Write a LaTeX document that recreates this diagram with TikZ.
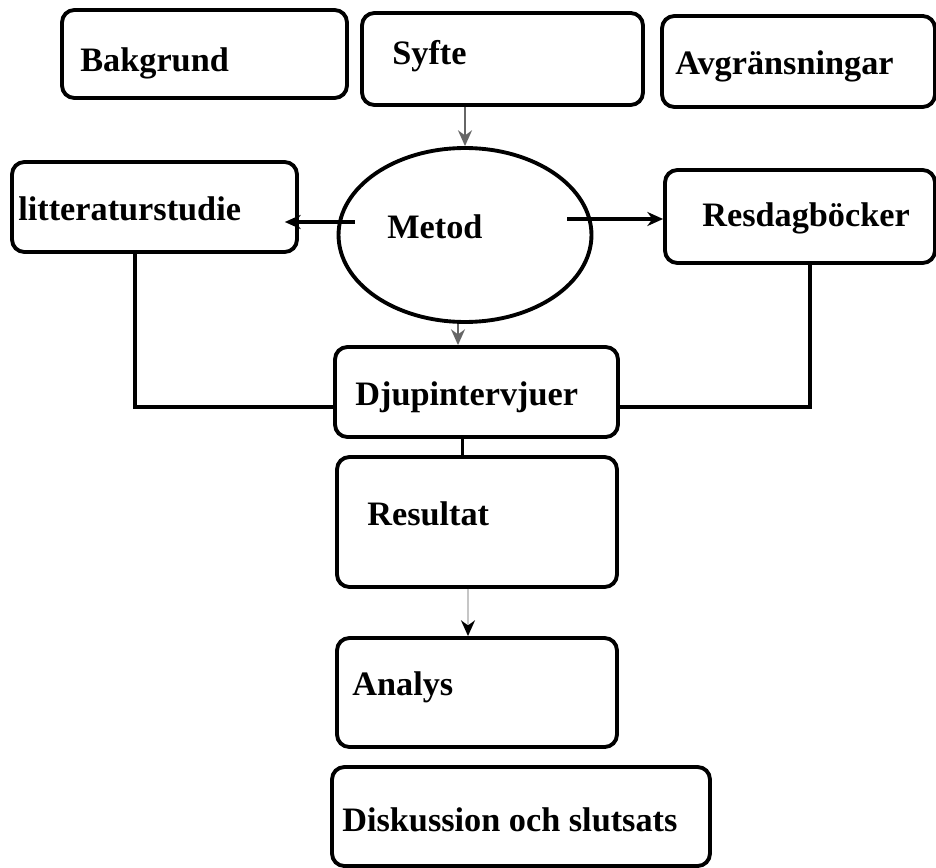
\documentclass[tikz,border=0pt]{standalone}
\usepackage{fontspec}
\setmainfont{Liberation Serif}
\usetikzlibrary{arrows.meta, shapes.geometric}

\begin{document}
\begin{tikzpicture}[>={Stealth[length=9pt, width=8pt]}, x=0.02cm, y=-0.02cm,
	box/.style={draw, rectangle, rounded corners=7pt, line width=2.2pt},
	oval/.style={draw, ellipse, line width=2.2pt},
	txt/.style={anchor=base west, inner sep=0pt, font=\bfseries\fontsize{19.5}{23}\selectfont},
	link/.style={line width=2pt},
	thin arrow/.style={->, line width=0.9pt, draw=gray!80!black}]

		\useasboundingbox (0,0) rectangle (936,868);

		% boxes
		\node[box, minimum width=5.70cm, minimum height=1.76cm] (Bak) 	at (204.5,54) 	{};
		\node[box, minimum width=5.62cm, minimum height=1.84cm] (Syf) 	at (502.5,59) 	{};
		\node[box, minimum width=5.46cm, minimum height=1.82cm] (Avg) 	at (798.5,61.5) {};
		\node[box, minimum width=5.70cm, minimum height=1.80cm] (Lit) 	at (154.5,207) 	{};
		\node[oval, minimum width=5.06cm, minimum height=3.48cm] (Met) 	at (465,235) 	{};
		\node[box, minimum width=5.40cm, minimum height=1.86cm] (Res) 	at (800,216.5) 	{};
		\node[box, minimum width=5.66cm, minimum height=1.80cm] (Dju) 	at (476.5,392) 	{};
		\node[box, minimum width=5.60cm, minimum height=2.60cm] (Rsl) 	at (477,522) 	{};
		\node[box, minimum width=5.60cm, minimum height=2.18cm] (Ana) 	at (477,692.5) 	{};
		\node[box, minimum width=7.56cm, minimum height=1.98cm] (Dis) 	at (521,816.5) 	{};

		% texts
		\node[txt] (BakT) at (80,72) 	{Bakgrund};
		\node[txt] (SyfT) at (392,65) 	{Syfte};
		\node[txt] (AvgT) at (675,75) 	{Avgränsningar};
		\node[txt] (LitT) at (18,220) 	{litteraturstudie};
		\node[txt] (MetT) at (387,238) 	{Metod};
		\node[txt] (ResT) at (702,227) 	{Resdagböcker};
		\node[txt] (DjuT) at (355,405) 	{Djupintervjuer};
		\node[txt] (RslT) at (367,525) 	{Resultat};
		\node[txt] (AnaT) at (352,695) 	{Analys};
		\node[txt] (DisT) at (342,831) 	{Diskussion och slutsats};

		\coordinate (MetL) at ([shift={(18,-13)}]Met.west);
		\coordinate (MetR) at ([shift={(-26,-16)}]Met.east);

		\draw[thin arrow] (Syf.south -| Met.north) -- (Met.north);
		\draw[->, line width=2.2pt, shorten >=-8pt] (MetL) -- (MetL -| Lit.east);
		\draw[->, line width=2.2pt] (MetR) -- (MetR -| Res.west);
		\draw[thin arrow] ([shift={(-7,0)}]Met.south) -- ([shift={(-7,0)}]Met.south |- Dju.north);
		\draw[link] ([shift={(-19.5,0)}]Lit.south) |- ([shift={(0,15)}]Dju.west);
		\draw[link] ([shift={(10,0)}]Res.south) |- ([shift={(0,15)}]Dju.east);
		\draw[link] ([shift={(-14,0)}]Dju.south) -- ([shift={(-14,0)}]Dju.south |- Rsl.north);
		\draw[-{Stealth[length=9pt, width=8pt, black]}, line width=1pt, draw=gray!45] ([shift={(-9,0)}]Rsl.south) -- ([shift={(-9,0)}]Rsl.south |- Ana.north);

	\end{tikzpicture}
\end{document}
